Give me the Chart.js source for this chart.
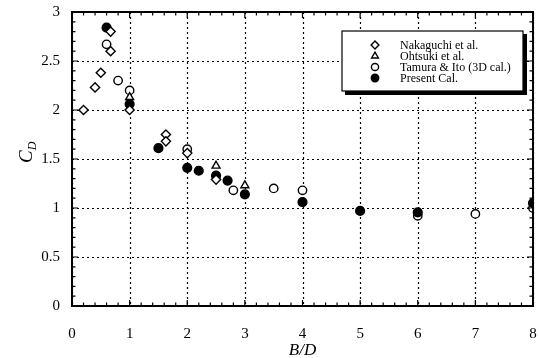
<!DOCTYPE html>
<html>
<head>
<meta charset="utf-8">
<style>
  html, body { margin: 0; padding: 0; background: #fff; }
  canvas { display: block; }
</style>
<script src="https://cdn.jsdelivr.net/npm/chart.js@4.4.1/dist/chart.umd.min.js"></script>
</head>
<body>
<canvas id="c" width="539" height="358"></canvas>
<script>
// Drag coefficient C_D against side ratio B/D
const seriesNames = ['Nakaguchi et al.', 'Ohtsuki et al.', 'Tamura & Ito (3D cal.)', 'Present Cal.'];

const nakaguchiBD = [0.2, 0.4, 0.5, 0.67, 0.67, 1.0, 1.63, 1.63, 2.0, 2.5];
const nakaguchiCD = [2.0, 2.23, 2.38, 2.8, 2.6, 2.0, 1.75, 1.68, 1.56, 1.29];

const ohtsukiBD = [1.0, 2.5, 3.0];
const ohtsukiCD = [2.13, 1.43, 1.23];

const tamuraBD = [0.6, 0.8, 1.0, 2.0, 2.8, 3.5, 4.0, 6.0, 7.0, 8.0];
const tamuraCD = [2.67, 2.3, 2.2, 1.6, 1.18, 1.2, 1.18, 0.92, 0.94, 1.0];

const presentBD = [0.6, 1.0, 1.5, 2.0, 2.2, 2.5, 2.7, 3.0, 4.0, 5.0, 6.0, 8.0];
const presentCD = [2.84, 2.06, 1.61, 1.41, 1.38, 1.33, 1.28, 1.14, 1.06, 0.97, 0.955, 1.05];

const xTickLabels = ['0', '1', '2', '3', '4', '5', '6', '7', '8'];
const yTickLabels = ['0', '0.5', '1', '1.5', '2', '2.5', '3'];

const SERIF = '"Liberation Serif", "Times New Roman", Times, serif';

function pts(xs, ys) { return xs.map((x, i) => ({ x: x, y: ys[i] })); }

const styles = [
  { pointStyle: 'rectRot', pointRadius: 4.6, backgroundColor: '#fff', order: 0 },
  { pointStyle: 'triangle', pointRadius: 4.6, backgroundColor: '#fff', order: 2 },
  { pointStyle: 'circle', pointRadius: 4.2, backgroundColor: '#fff', order: 3 },
  { pointStyle: 'circle', pointRadius: 4.4, backgroundColor: '#000', order: 1 }
];
const seriesData = [
  pts(nakaguchiBD, nakaguchiCD),
  pts(ohtsukiBD, ohtsukiCD),
  pts(tamuraBD, tamuraCD),
  pts(presentBD, presentCD)
];

const datasets = seriesNames.map((name, i) => ({
  label: name,
  data: seriesData[i],
  pointStyle: styles[i].pointStyle,
  pointRadius: styles[i].pointRadius,
  pointBackgroundColor: styles[i].backgroundColor,
  pointBorderColor: '#000',
  pointBorderWidth: 1.4,
  showLine: false,
  order: styles[i].order
}));

// white page behind the chart
const background = {
  id: 'background',
  beforeDraw(chart) {
    const ctx = chart.ctx;
    ctx.save();
    ctx.fillStyle = '#fff';
    ctx.fillRect(0, 0, chart.width, chart.height);
    ctx.restore();
  }
};

// dotted grid at the labelled ticks
const dottedGrid = {
  id: 'dottedGrid',
  beforeDatasetsDraw(chart) {
    const ctx = chart.ctx;
    const a = chart.chartArea;
    const xs = chart.scales.x, ys = chart.scales.y;
    ctx.save();
    ctx.strokeStyle = '#000';
    ctx.lineWidth = 1.2;
    ctx.setLineDash([2, 3]);
    ctx.beginPath();
    xTickLabels.forEach(v => {
      const px = Math.round(xs.getPixelForValue(Number(v))) + 0.5;
      ctx.moveTo(px, a.top); ctx.lineTo(px, a.bottom);
    });
    yTickLabels.forEach(v => {
      const py = Math.round(ys.getPixelForValue(Number(v))) + 0.5;
      ctx.moveTo(a.left, py); ctx.lineTo(a.right, py);
    });
    ctx.stroke();
    ctx.restore();
  }
};

// frame, inward ticks, axis titles and the boxed key
const decorations = {
  id: 'decorations',
  afterDraw(chart) {
    const ctx = chart.ctx;
    const a = chart.chartArea;
    const xs = chart.scales.x, ys = chart.scales.y;
    ctx.save();

    // inward major / minor ticks on all four sides
    ctx.strokeStyle = '#000';
    ctx.lineWidth = 1.2;
    ctx.beginPath();
    for (let k = 0; k <= 40; k++) {
      const px = xs.getPixelForValue(k * 0.2);
      const len = (k % 5 === 0) ? 6 : 3.5;
      ctx.moveTo(px, a.bottom); ctx.lineTo(px, a.bottom - len);
      ctx.moveTo(px, a.top); ctx.lineTo(px, a.top + len);
    }
    for (let k = 0; k <= 30; k++) {
      const py = ys.getPixelForValue(k * 0.1);
      const len = (k % 5 === 0) ? 6 : 3.5;
      ctx.moveTo(a.left, py); ctx.lineTo(a.left + len, py);
      ctx.moveTo(a.right, py); ctx.lineTo(a.right - len, py);
    }
    ctx.stroke();

    // frame
    ctx.lineWidth = 2;
    ctx.strokeRect(a.left, a.top, a.right - a.left, a.bottom - a.top);

    // y title: C with subscript D
    ctx.fillStyle = '#000';
    ctx.save();
    ctx.translate(32, 163);
    ctx.rotate(-Math.PI / 2);
    ctx.textBaseline = 'alphabetic';
    ctx.textAlign = 'left';
    ctx.font = 'italic 19px ' + SERIF;
    ctx.fillText('C', 0, 0);
    const cw = ctx.measureText('C').width;
    ctx.font = 'italic 12px ' + SERIF;
    ctx.fillText('D', cw, 4);
    ctx.restore();

    // x title
    ctx.font = 'italic 17px ' + SERIF;
    ctx.textAlign = 'center';
    ctx.textBaseline = 'middle';
    ctx.fillText('B/D', (a.left + a.right) / 2, 351);

    // key box with a drop shadow
    const bx = 342, by = 31, bw = 181, bh = 60;
    ctx.fillStyle = '#000';
    ctx.fillRect(bx + 3, by + 3, bw + 1, bh + 1);
    ctx.fillStyle = '#fff';
    ctx.fillRect(bx, by, bw, bh);
    ctx.lineWidth = 1.2;
    ctx.strokeStyle = '#000';
    ctx.strokeRect(bx, by, bw, bh);

    const rows = [45, 56, 67, 78];
    ctx.font = '12px ' + SERIF;
    ctx.textAlign = 'left';
    ctx.textBaseline = 'middle';
    datasets.forEach((ds, i) => {
      ctx.fillStyle = ds.pointBackgroundColor;
      ctx.strokeStyle = '#000';
      ctx.lineWidth = 1.4;
      Chart.helpers.drawPoint(ctx, {
        pointStyle: ds.pointStyle,
        radius: ds.pointRadius * 0.85,
        rotation: 0,
        borderWidth: 1.4
      }, 375, rows[i]);
      ctx.fillStyle = '#000';
      ctx.fillText(ds.label, 400, rows[i] + 1);
    });

    ctx.restore();
  }
};

new Chart(document.getElementById('c'), {
  type: 'scatter',
  data: { datasets: datasets },
  options: {
    responsive: false,
    animation: false,
    devicePixelRatio: 1,
    layout: { padding: { top: 12, right: 2, left: 0, bottom: 0 } },
    plugins: {
      legend: { display: false },
      tooltip: { enabled: false }
    },
    scales: {
      x: {
        type: 'linear',
        min: 0, max: 8,
        afterFit(scale) {
          scale.height = 52;
          scale.paddingLeft = 0;
          scale.paddingRight = 0;
        },
        afterBuildTicks(scale) {
          scale.ticks = xTickLabels.map(v => ({ value: Number(v) }));
        },
        ticks: {
          color: '#000',
          font: { family: SERIF, size: 15 },
          padding: 19,
          maxRotation: 0,
          callback: (v) => xTickLabels[xTickLabels.indexOf(String(v))]
        },
        grid: { display: false, drawTicks: false },
        border: { display: false }
      },
      y: {
        type: 'linear',
        min: 0, max: 3,
        afterFit(scale) {
          scale.width = 72;
          scale.paddingTop = 0;
          scale.paddingBottom = 0;
        },
        afterBuildTicks(scale) {
          scale.ticks = yTickLabels.map(v => ({ value: Number(v) }));
        },
        ticks: {
          color: '#000',
          font: { family: SERIF, size: 15 },
          padding: 12,
          callback: (v) => yTickLabels[yTickLabels.indexOf(String(v))]
        },
        grid: { display: false, drawTicks: false },
        border: { display: false }
      }
    }
  },
  plugins: [background, dottedGrid, decorations]
});
</script>
</body>
</html>
